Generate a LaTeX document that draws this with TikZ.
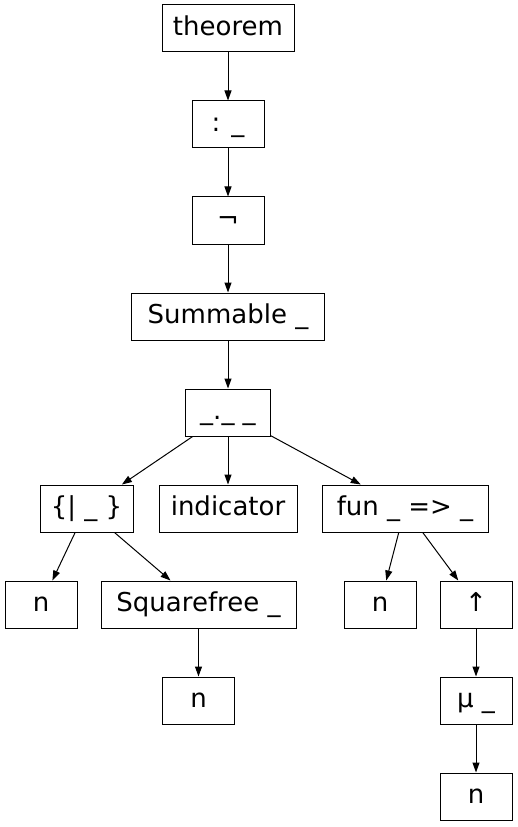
\documentclass[tikz,border=0pt]{standalone}
\usepackage{fontspec}
\setmainfont{DejaVu Sans}
\usetikzlibrary{arrows.meta,positioning,calc}

\begin{document}
\begin{tikzpicture}[x=0.75pt,y=-0.75pt,
			box/.style={rectangle,draw=black,line width=0.75pt,inner sep=0pt,minimum height=35.25pt,
				text height=15pt,text depth=4pt,font=\fontsize{19.5}{23}\selectfont},
			edge/.style={black,line width=0.75pt,-{Triangle[length=7.5pt,width=5.25pt]}}]
		\useasboundingbox (0,0) rectangle (517,827);
		\path 	(228,28.5) 		node 	(thm) 	[box, minimum width=99pt] {theorem}
		        (228,124.5) 	node 	(colon) [box, minimum width=54pt] {: \_}
		        (228,220.5) 	node 	(lnot) 	[box, minimum width=54pt] {¬}
		        (228,316.5) 	node 	(summ) 	[box, minimum width=144.75pt] {Summable \_}
		        (228,412.5) 	node 	(dot) 	[box, minimum width=63.75pt] {\_.\_ \_}
		        (86.5,508.5) 	node 	(setof) [box, minimum width=69.75pt] {\{| \_ \}}
		        (228,508.5) 	node 	(indic) [box, minimum width=103.5pt] {indicator}
		        (405,508.5) 	node 	(fun) 	[box, minimum width=124.5pt] {fun \_ => \_}
		        (41,604.5) 		node 	(n1) 	[box, minimum width=54pt] {n}
		        (198.5,604.5) 	node 	(sqf) 	[box, minimum width=146.25pt] {Squarefree \_}
		        (380,604.5) 	node 	(n2) 	[box, minimum width=54pt] {n}
		        (476,604.5) 	node 	(coe) 	[box, minimum width=54pt] {↑}
		        (198.5,700.5) 	node 	(n3) 	[box, minimum width=54pt] {n}
		        (476,700.5) 	node 	(mu) 	[box, minimum width=54pt] {μ \_}
		        (476,796.5) 	node 	(n4) 	[box, minimum width=54pt] {n};
		\draw [edge] (thm) -- (colon);
		\draw [edge] (colon) -- (lnot);
		\draw [edge] (lnot) -- (summ);
		\draw [edge] (summ) -- (dot);
		\draw [edge] (dot) -- (setof);
		\draw [edge] (dot) -- (indic);
		\draw [edge] (dot) -- (fun);
		\draw [edge] (setof) -- (n1);
		\draw [edge] (setof) -- (sqf);
		\draw [edge] (sqf) -- (n3);
		\draw [edge] (fun) -- (n2);
		\draw [edge] (fun) -- (coe);
		\draw [edge] (coe) -- (mu);
		\draw [edge] (mu) -- (n4);
	\end{tikzpicture}
\end{document}
